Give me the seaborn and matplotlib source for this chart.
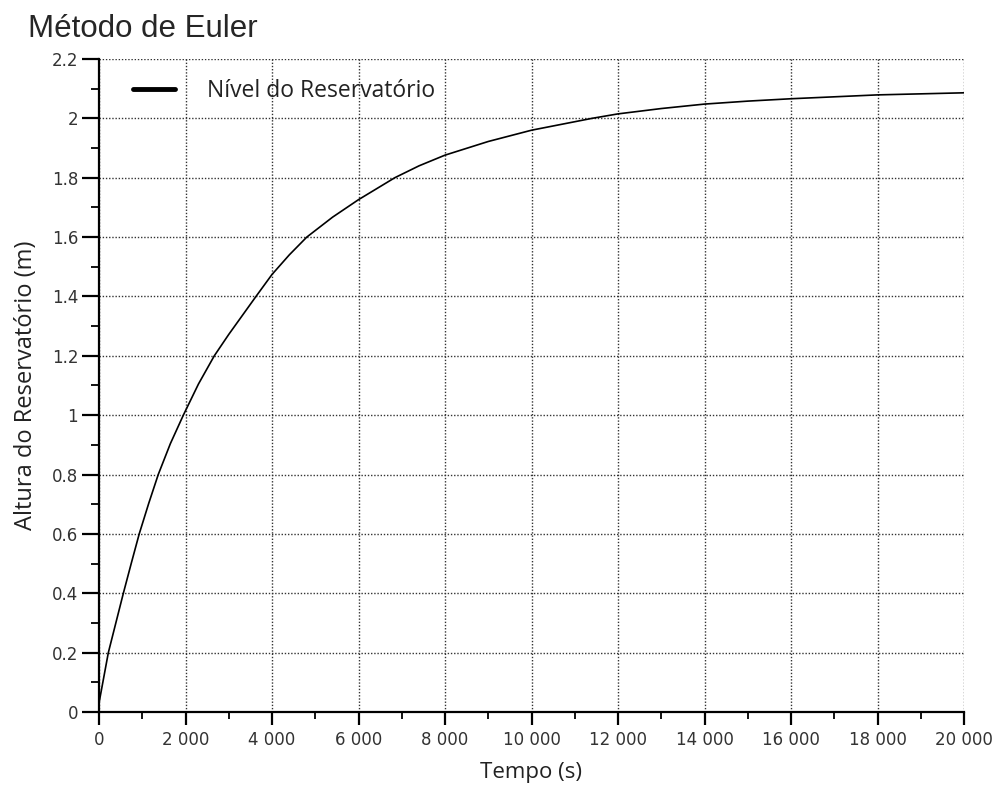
import matplotlib
matplotlib.use("Agg")
import matplotlib.pyplot as plt
import seaborn as sns
import pandas as pd
from matplotlib.ticker import MultipleLocator, FuncFormatter

# Data
tempo = [0, 216, 563, 750, 930, 1150, 1370, 1650, 1950, 2300, 2666, 3000, 3630,
         4000, 4400, 4805, 5400, 6000, 6840, 7400, 8000, 9000, 10000, 11400,
         12000, 13000, 14000, 15000, 16000, 18000, 20000]
altura = [0.03, 0.2, 0.4, 0.503, 0.6, 0.703, 0.8, 0.904, 1.0, 1.105, 1.2, 1.272,
          1.4, 1.474, 1.54, 1.6, 1.667, 1.726, 1.8, 1.84, 1.876, 1.922, 1.96,
          2.0, 2.015, 2.033, 2.048, 2.058, 2.066, 2.079, 2.086]
serie = "Nível do Reservatório"
titulo = "Método de Euler"
xlabel = "Tempo (s)"
ylabel = "Altura do Reservatório (m)"

df = pd.DataFrame({"t": tempo, "h": altura})

sns.set_theme(style="white")
plt.rcParams['font.family'] = ['DejaVu Sans']

fig = plt.figure(figsize=(10, 7.98), dpi=100)
ax = fig.add_axes([0.099, 0.1078, 0.865, 0.8183])

sns.lineplot(data=df, x="t", y="h", ax=ax, color="black", linewidth=1.2,
             label=serie)

ax.set_xlim(0, 20000)
ax.set_ylim(0, 2.2)
ax.xaxis.set_major_locator(MultipleLocator(2000))
ax.xaxis.set_minor_locator(MultipleLocator(1000))
ax.yaxis.set_major_locator(MultipleLocator(0.2))
ax.yaxis.set_minor_locator(MultipleLocator(0.1))

def fmt_x(v, pos):
    v = int(round(v))
    if v >= 1000:
        return f"{v // 1000} {v % 1000:03d}"
    return str(v)

def fmt_y(v, pos):
    s = f"{v:.1f}"
    if s.endswith(".0"):
        s = s[:-2]
    return s

ax.xaxis.set_major_formatter(FuncFormatter(fmt_x))
ax.yaxis.set_major_formatter(FuncFormatter(fmt_y))

ax.grid(True, which="major", linestyle=(0, (1, 1.3)), color="#333333", linewidth=1.0)
for s in ["top", "right"]:
    ax.spines[s].set_visible(False)
for s in ["left", "bottom"]:
    ax.spines[s].set_color("black")
    ax.spines[s].set_linewidth(1.6)

ax.tick_params(axis="both", which="major", direction="out", width=1.6,
               color="black", labelsize=12, labelcolor="#333333",
               left=True, bottom=True)
ax.tick_params(axis="x", which="major", length=9, pad=5)
ax.tick_params(axis="y", which="major", length=12, pad=3)
ax.tick_params(axis="both", which="minor", direction="out", width=1.3,
               color="black", left=True, bottom=True)
ax.tick_params(axis="x", which="minor", length=5)
ax.tick_params(axis="y", which="minor", length=6)

ax.set_xlabel(xlabel, fontsize=16, family=["Open Sans", "DejaVu Sans"], labelpad=9,
              color="#222222")
ax.set_ylabel(ylabel, fontsize=17, family=["Open Sans", "DejaVu Sans"], labelpad=10,
              color="#222222")

leg = ax.legend(loc="upper left", frameon=False,
                prop={"family": ["Open Sans", "DejaVu Sans"], "size": 16.5},
                bbox_to_anchor=(0.039, 0.97), borderaxespad=0, borderpad=0,
                handlelength=1.85, handletextpad=1.4)
for line in leg.get_lines():
    line.set_linewidth(3.5)
for txt in leg.get_texts():
    txt.set_color("#222222")

fig.text(0.028, 1 - 37 / 798, titulo, fontsize=22.5, va="baseline", ha="left",
         family=["Liberation Sans", "DejaVu Sans"])

fig.savefig("out.png", dpi=100, facecolor="white")
